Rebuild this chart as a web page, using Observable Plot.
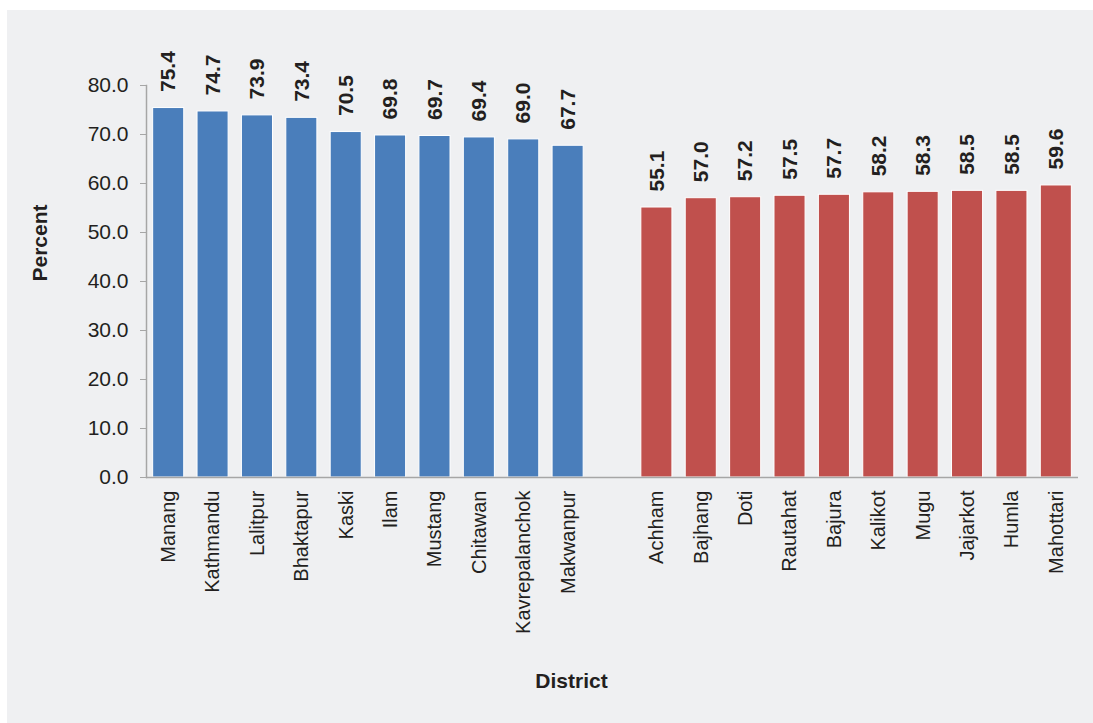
<!DOCTYPE html>
<html><head><meta charset="utf-8">
<script src="https://cdn.jsdelivr.net/npm/d3@7"></script>
<script src="https://cdn.jsdelivr.net/npm/@observablehq/plot@0.6"></script>
<style>
body{margin:0;background:#fff;}
#panel{position:absolute;left:7px;top:10px;width:1086px;height:713px;background:#eff0f2;}
</style></head><body><div id="panel"></div>
<script>
const highDistricts = ["Manang","Kathmandu","Lalitpur","Bhaktapur","Kaski","Ilam","Mustang","Chitawan","Kavrepalanchok","Makwanpur"];
const highValues = [75.4,74.7,73.9,73.4,70.5,69.8,69.7,69.4,69.0,67.7];
const lowDistricts = ["Achham","Bajhang","Doti","Rautahat","Bajura","Kalikot","Mugu","Jajarkot","Humla","Mahottari"];
const lowValues = [55.1,57.0,57.2,57.5,57.7,58.2,58.3,58.5,58.5,59.6];
const yTicks = [0,10,20,30,40,50,60,70,80];
const gapLabel = " ";
const groups = ["high","low"];
const colors = ["#4a7ebb","#c0504d"];

const rows = [
  ...highDistricts.map((d,i)=>({district:d,value:highValues[i],group:groups[0]})),
  ...lowDistricts.map((d,i)=>({district:d,value:lowValues[i],group:groups[1]}))
];
const domain = [...highDistricts, gapLabel, ...lowDistricts];
const fmt = d3.format(".1f");
const font = "'Liberation Sans', Arial, Helvetica, sans-serif";

const chart = Plot.plot({
  width:1086, height:713,
  marginTop:75, marginBottom:246, marginLeft:139, marginRight:15,
  style:{background:"transparent", fontFamily:font, fontSize:"20px", color:"#231f20", overflow:"visible"},
  x:{domain, paddingInner:0.3, paddingOuter:0.15, round:false, axis:null},
  y:{domain:[0,80], axis:null},
  color:{domain:groups, range:colors},
  marks:[
    Plot.barY(rows,{x:"district", y:"value", fill:"group", stroke:"#ffffff", strokeWidth:1}),
    Plot.ruleY([0],{stroke:"#a6a6a6", strokeWidth:1.5}),
    Plot.axisY({ticks:yTicks, tickFormat:fmt, tickSize:6, tickPadding:12, stroke:"#a6a6a6", fill:"#231f20", fontSize:21, label:null}),
    Plot.frame({anchor:"left", stroke:"#a6a6a6", strokeWidth:1.5}),
    Plot.axisX({tickRotate:-90, tickSize:0, tickPadding:13, label:null, fontSize:20, fill:"#231f20"}),
    Plot.text(rows,{x:"district", y:"value", text:d=>fmt(d.value), rotate:-90, textAnchor:"start", dy:-16, fontWeight:"bold", fontSize:21, fill:"#231f20"}),
    Plot.text(["Percent"],{frameAnchor:"left", rotate:-90, dx:-106, fontWeight:"bold", fontSize:21, fill:"#231f20"}),
    Plot.text(["District"],{frameAnchor:"bottom", dx:-41, dy:210, fontWeight:"bold", fontSize:21, fill:"#231f20"})
  ]
});
document.getElementById("panel").appendChild(chart);
</script></body></html>
